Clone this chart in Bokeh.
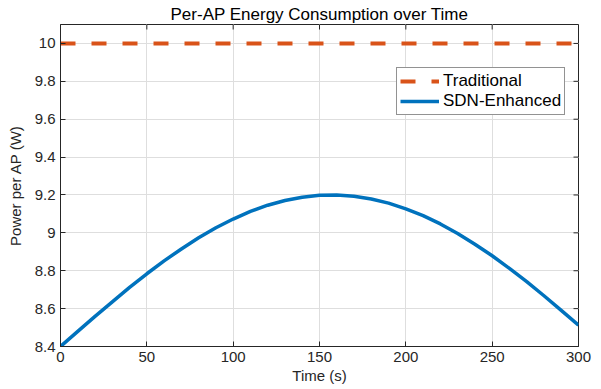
import math
from bokeh.plotting import figure
from bokeh.models import (LinearAxis, FixedTicker, CustomJSTickFormatter, Legend,
                          LegendItem, Range1d, Grid)
from bokeh.embed import file_html
from bokeh.resources import INLINE

# Time axis (s) and per-AP power (W)
time_s = [0, 10, 20, 30, 40, 50, 60, 70, 80, 90, 100, 110, 120, 130, 140, 150,
          160, 170, 180, 190, 200, 210, 220, 230, 240, 250, 260, 270, 280, 290, 300]
traditional_w = [10.0] * len(time_s)
sdn_enhanced_w = [8.400, 8.480, 8.559, 8.636, 8.712, 8.784, 8.852, 8.915, 8.974,
                  9.027, 9.073, 9.113, 9.146, 9.171, 9.188, 9.198, 9.200, 9.193,
                  9.179, 9.157, 9.127, 9.091, 9.047, 8.997, 8.940, 8.879, 8.812,
                  8.742, 8.668, 8.591, 8.513]

x_ticks = [0, 50, 100, 150, 200, 250, 300]
y_ticks = [8.4, 8.6, 8.8, 9.0, 9.2, 9.4, 9.6, 9.8, 10.0]
x_min, x_max = 0, 300
y_min, y_max = 8.4, 10.1

FONT = "Liberation Sans"
DARK = "#262626"
ORANGE = "#D95319"
BLUE = "#0072BD"

p = figure(width=601, height=389, output_backend="svg", toolbar_location=None,
           x_range=Range1d(x_min, x_max), y_range=Range1d(y_min, y_max),
           x_axis_location=None, y_axis_location=None,
           min_border_left=60, min_border_right=23, min_border_top=24,
           min_border_bottom=43)
p.outline_line_color = DARK
p.outline_line_width = 1
p.background_fill_color = "white"
p.border_fill_color = "white"

p.title.text = "Per-AP Energy Consumption over Time"
p.title.align = "center"
p.title.text_font = FONT
p.title.text_font_size = "17px"
p.title.text_font_style = "normal"
p.title.text_color = "#000000"
p.title.standoff = 2

fmt = CustomJSTickFormatter(code="return tick.toFixed(1).replace(/\\.0$/, '');")


def style_axis(ax, ticks):
    ax.ticker = FixedTicker(ticks=ticks)
    ax.axis_line_color = DARK
    ax.axis_line_width = 1
    ax.major_tick_line_color = DARK
    ax.major_tick_in = 5
    ax.major_tick_out = 0
    ax.minor_tick_line_color = None
    ax.major_label_text_font = FONT
    ax.major_label_text_color = DARK
    ax.major_label_text_font_size = "15px"
    ax.major_label_standoff = 5
    ax.formatter = fmt
    ax.axis_label_text_font = FONT
    ax.axis_label_text_color = DARK
    ax.axis_label_text_font_style = "normal"
    ax.axis_label_text_font_size = "15px"


bottom = LinearAxis(axis_label="Time (s)")
style_axis(bottom, x_ticks)
bottom.axis_label_standoff = 2
left = LinearAxis(axis_label="Power per AP (W)")
style_axis(left, y_ticks)
left.axis_label_standoff = 8
p.add_layout(bottom, "below")
p.add_layout(left, "left")

p.add_layout(Grid(dimension=0, ticker=bottom.ticker, grid_line_color="#dedede"))
p.add_layout(Grid(dimension=1, ticker=left.ticker, grid_line_color="#dedede"))

# inward ticks along the top and right edges of the box
p.ray(x=x_ticks, y=[y_max] * len(x_ticks), length=5, length_units="screen",
      angle=-math.pi / 2, line_color=DARK, line_width=1)
p.ray(x=[x_max] * len(y_ticks), y=y_ticks, length=5, length_units="screen",
      angle=math.pi, line_color=DARK, line_width=1)

r_trad = p.line(time_s, traditional_w, line_color=ORANGE, line_width=4,
                line_dash="15 16")
r_sdn = p.line(time_s, sdn_enhanced_w, line_color=BLUE, line_width=3.5)

legend = Legend(items=[LegendItem(label="Traditional", renderers=[r_trad]),
                       LegendItem(label="SDN-Enhanced", renderers=[r_sdn])],
                location=(336, 231))
legend.label_text_font = FONT
legend.label_text_font_size = "17px"
legend.label_text_color = "#000000"
legend.border_line_color = DARK
legend.border_line_width = 1
legend.background_fill_color = "white"
legend.background_fill_alpha = 1
legend.glyph_width = 39
legend.glyph_height = 20
legend.label_height = 20
legend.label_standoff = 4
legend.spacing = 0
legend.padding = 3
legend.margin = 0
p.add_layout(legend, "center")

open("out.html", "w").write(file_html(p, INLINE))
